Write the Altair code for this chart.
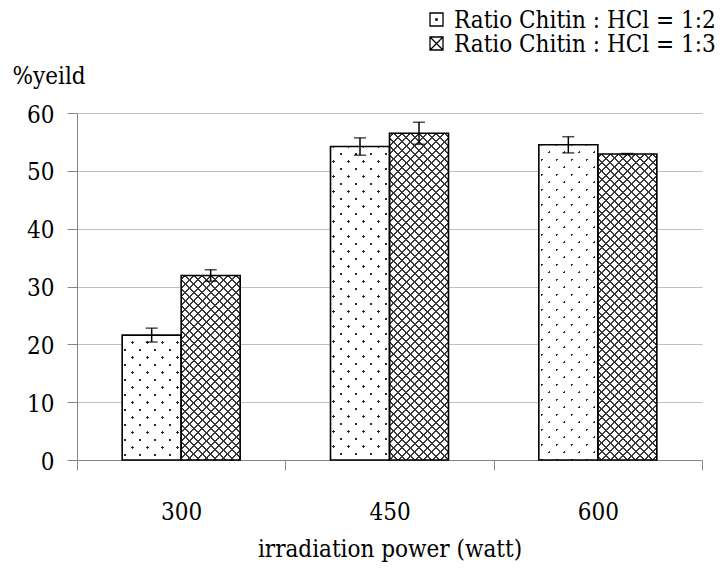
import math
import altair as alt
import pandas as pd

# ---------------- data ----------------
power = ["300", "450", "600"]
series_names = ["Ratio Chitin : HCl = 1:2", "Ratio Chitin : HCl = 1:3"]
yield_12 = [21.6, 54.2, 54.5]
err_12 = [1.2, 1.5, 1.4]
yield_13 = [31.9, 56.5, 52.9]
err_13 = [1.0, 1.9, 0.1]
y_ticks = [0, 10, 20, 30, 40, 50, 60]

records = []
for i, p in enumerate(power):
    for s, vals, errs in ((series_names[0], yield_12, err_12),
                          (series_names[1], yield_13, err_13)):
        records.append({"power": p, "series": s, "value": vals[i], "err": errs[i]})
df = pd.DataFrame(records)

# ---------------- style ----------------
PLOT_W, PLOT_H = 625, 347
PAD_L, PAD_T = 77, 113
Y_MAX = 60
BAR_W = 59
FONT = "DejaVu Serif Condensed, DejaVu Serif"
FS = 24
AXIS_GREY = "#868686"
CLEAR = "rgba(0,0,0,0)"
LINE = "#3a3a3a"
DOT = "#2a2a2a"
offset = {series_names[0]: -BAR_W / 2, series_names[1]: BAR_W / 2}
kind = {series_names[0]: "dots", series_names[1]: "cross"}
px_per_unit = PLOT_H / Y_MAX


def stripe_gradient(W, H, a, b, period, thick, on, off, phase=0.0):
    """Linear gradient drawing stripes along lines a*x + b*y = c (pixel space)."""
    cs = [0.0, a * W, b * H, a * W + b * H]
    corners = [(0, 0), (1, 0), (0, 1), (1, 1)]
    i0 = min(range(4), key=lambda i: cs[i])
    cmin, cmax = cs[i0], max(cs)
    span = cmax - cmin
    k = span / (a * a * W * W + b * b * H * H)
    u0, v0 = corners[i0]
    x2 = u0 + k * a * W
    y2 = v0 + k * b * H
    stops = [{"offset": 0, "color": off}]
    n0 = math.floor((cmin - phase) / period) - 1
    n1 = math.ceil((cmax - phase) / period) + 1
    for n in range(n0, n1 + 1):
        c = n * period + phase
        t0 = (c - thick / 2 - cmin) / span
        t1 = (c + thick / 2 - cmin) / span
        if t1 <= 0 or t0 >= 1:
            continue
        t0 = round(max(t0, 0.0), 5)
        t1 = round(min(t1, 1.0), 5)
        stops += [{"offset": t0, "color": off}, {"offset": t0, "color": on},
                  {"offset": t1, "color": on}, {"offset": t1, "color": off}]
    stops.append({"offset": 1, "color": off})
    return {"gradient": "linear", "x1": u0, "y1": v0,
            "x2": round(x2, 6), "y2": round(y2, 6), "stops": stops}


x_scale = alt.Scale(domain=power, paddingInner=0, paddingOuter=0)
y_scale = alt.Scale(domain=[0, Y_MAX], nice=False)

x_axis = alt.Axis(
    title="irradiation power (watt)", labelAngle=0, tickBand="extent",
    tickSize=10, domainColor=AXIS_GREY, tickColor=AXIS_GREY, grid=False,
    labelFont=FONT, labelFontSize=FS, labelColor="black", labelPadding=30,
    titleFont=FONT, titleFontSize=FS, titleFontWeight="normal", titleColor="black",
    titleBaseline="alphabetic", titleY=96,
)
y_axis = alt.Axis(
    title="%yeild", values=y_ticks, format="d", tickSize=10,
    domainColor=AXIS_GREY, tickColor=AXIS_GREY, gridColor="#c0c0c0", gridWidth=1.2,
    labelFont=FONT, labelFontSize=FS, labelColor="black", labelPadding=13, labelOffset=2,
    titleFont=FONT, titleFontSize=FS, titleFontWeight="normal", titleColor="black",
    titleAngle=0, titleAlign="left", titleBaseline="alphabetic", titleX=-65, titleY=-30,
)


def X():
    return alt.X("power:N", sort=power, scale=x_scale, axis=x_axis, title="irradiation power (watt)")


def Y(field):
    return alt.Y(f"{field}:Q", scale=y_scale, axis=y_axis, title="%yeild")


layers = []

# white bases
for s in series_names:
    layers.append(
        alt.Chart().transform_filter(alt.datum.series == s)
        .mark_bar(size=BAR_W, xOffset=offset[s], fill="white", strokeWidth=0)
        .encode(x=X(), y=Y("value"))
    )

# patterns
for i, p in enumerate(power):
    for s, vals in ((series_names[0], yield_12), (series_names[1], yield_13)):
        W = BAR_W
        H = vals[i] * px_per_unit
        if kind[s] == "dots":
            grads = [stripe_gradient(W, H, 1, 1, 15, 2.6, DOT, CLEAR, phase=3),
                     stripe_gradient(W, H, 1, -1, 15, 2.6, CLEAR, "white", phase=3)]
        else:
            grads = [stripe_gradient(W, H, 1, 1, 8.5, 2.0, LINE, CLEAR, phase=4),
                     stripe_gradient(W, H, 1, -1, 8.5, 2.0, LINE, CLEAR, phase=4)]
        for g in grads:
            layers.append(
                alt.Chart().transform_filter((alt.datum.power == p) & (alt.datum.series == s))
                .mark_bar(size=BAR_W, xOffset=offset[s], fill=g, strokeWidth=0)
                .encode(x=X(), y=Y("value"))
            )

# outlines
for s in series_names:
    layers.append(
        alt.Chart().transform_filter(alt.datum.series == s)
        .mark_bar(size=BAR_W, xOffset=offset[s], fillOpacity=0, stroke="black", strokeWidth=1.6)
        .encode(x=X(), y=Y("value"))
    )

# error bars
for s in series_names:
    base = alt.Chart().transform_filter(alt.datum.series == s).transform_calculate(
        lo="datum.value - datum.err", hi="datum.value + datum.err")
    layers.append(base.mark_rule(xOffset=offset[s], color="black", strokeWidth=1.5)
                  .encode(x=X(), y=Y("lo"), y2="hi:Q"))
    for f in ("lo", "hi"):
        layers.append(base.mark_tick(xOffset=offset[s], color="black", size=12,
                                     thickness=1.5, orient="horizontal")
                      .encode(x=X(), y=Y(f)))

# legend (top right, drawn in the top margin)
sq = "M-1,-1H1V1H-1Z"
legend_shapes = [sq + " M-0.1,-0.1H0.1V0.1H-0.1Z", sq + " M-1,-1L1,1 M-1,1L1,-1"]
legend_rows_y = [19.5 - PAD_T, 43.5 - PAD_T]
SYM_X = 436.5 - PAD_L
TXT_X = 454 - PAD_L
for j, s in enumerate(series_names):
    layers.append(
        alt.Chart().mark_point(shape=legend_shapes[j], filled=True, fill="white",
                               stroke="black", strokeWidth=1.3, size=169, opacity=1)
        .encode(x=alt.value(SYM_X), y=alt.value(legend_rows_y[j]))
        .transform_filter(alt.datum.power == power[0]).transform_filter(alt.datum.series == s)
    )
    layers.append(
        alt.Chart().mark_text(align="left", baseline="middle", font=FONT, fontSize=FS,
                              color="black", dy=1)
        .encode(x=alt.value(TXT_X), y=alt.value(legend_rows_y[j]), text="series:N")
        .transform_filter(alt.datum.power == power[0]).transform_filter(alt.datum.series == s)
    )

chart = alt.layer(*layers, data=df).properties(
    width=PLOT_W, height=PLOT_H,
    padding={"left": PAD_L, "top": PAD_T, "right": 20, "bottom": 120},
    autosize=alt.AutoSizeParams(type="none"),
    background="white",
).configure_view(stroke=None)

chart.save("out.html", embed_options={"renderer": "svg", "actions": False})
